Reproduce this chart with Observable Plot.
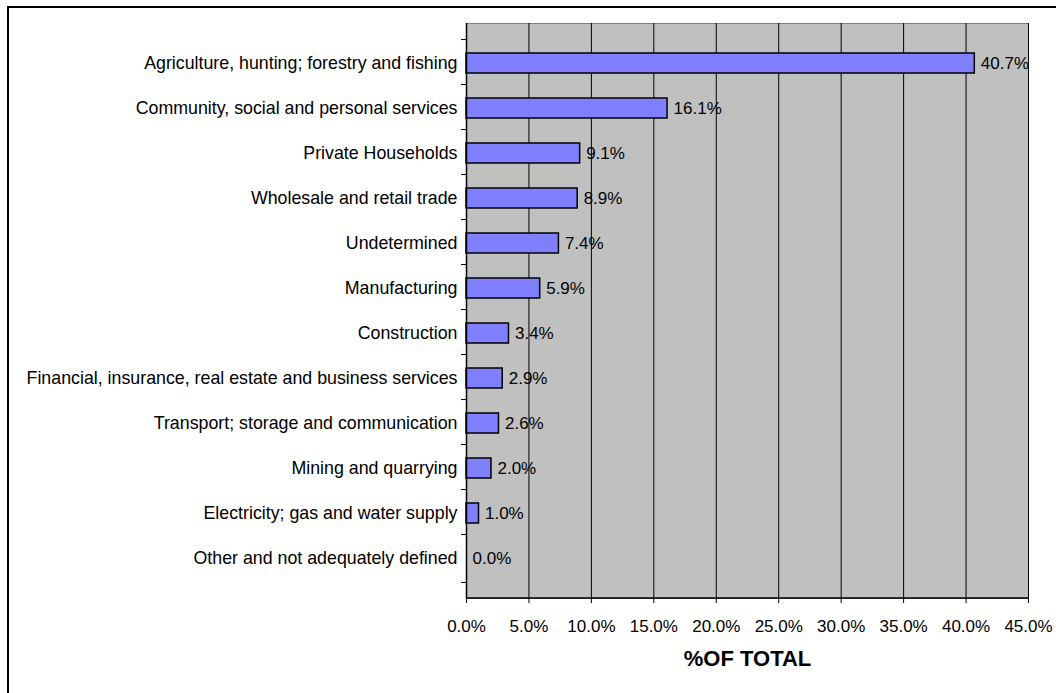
<!DOCTYPE html>
<html>
<head>
<meta charset="utf-8">
<script src="https://cdn.jsdelivr.net/npm/d3@7"></script>
<script src="https://cdn.jsdelivr.net/npm/@observablehq/plot@0.6"></script>
<style>
  html, body { margin: 0; padding: 0; background: #fff; }
  #wrap { position: relative; width: 1056px; height: 693px; overflow: hidden; }
  #border { position: absolute; left: 7px; top: 6px; width: 1100px; height: 750px; border: 2px solid #000; box-sizing: border-box; }
  #chart { position: absolute; left: 0; top: 0; }
  svg text { font-family: "Liberation Sans", Arial, sans-serif; }
</style>
</head>
<body>
<div id="wrap"><div id="border"></div><div id="chart"></div></div>
<script>
const categories = [
  "Agriculture, hunting; forestry and fishing",
  "Community, social and personal services",
  "Private Households",
  "Wholesale and retail trade",
  "Undetermined",
  "Manufacturing",
  "Construction",
  "Financial, insurance, real estate and business services",
  "Transport; storage and communication",
  "Mining and quarrying",
  "Electricity; gas and water supply",
  "Other and not adequately defined"
];
const values = [40.7, 16.1, 9.1, 8.9, 7.4, 5.9, 3.4, 2.9, 2.6, 2.0, 1.0, 0.0];
const xTicks = [0, 5, 10, 15, 20, 25, 30, 35, 40, 45];
const axisTitle = "%OF TOTAL";

const data = categories.map((c, i) => ({category: c, value: values[i]}));

const W = 1056, H = 693, mL = 466, mR = 28, mT = 23, mB = 95;
const step = (H - mT - mB) / categories.length;
const fmt = d => d.toFixed(1) + "%";

const chart = Plot.plot({
  width: W, height: H,
  marginLeft: mL, marginRight: mR, marginTop: mT, marginBottom: mB,
  style: {fontSize: "17px", fontFamily: "Liberation Sans, Arial, sans-serif", color: "#000", background: "transparent"},
  x: {domain: [0, 45], ticks: xTicks},
  y: {domain: categories, padding: 0.56, align: 0.5},
  marks: [
    Plot.frame({fill: "#c0c0c0", stroke: "#808080"}),
    Plot.gridX(xTicks, {stroke: "#000", strokeOpacity: 1, strokeWidth: 1}),
    Plot.barX(data, {x: "value", y: "category", fill: "#8080ff", stroke: "#000", strokeWidth: 1.5}),
    Plot.text(data, {x: "value", y: "category", text: d => fmt(d.value), textAnchor: "start", dx: 6, fontSize: 17, fill: "#000"}),
    Plot.ruleX([0], {stroke: "#000", strokeWidth: 1.5}),
    Plot.axisX({ticks: xTicks, tickFormat: fmt, tickSize: 5, tickPadding: 16, label: null, fontSize: 17}),
    Plot.axisY({tickSize: 0, tickPadding: 9, label: null, fontSize: 17.8}),
    Plot.axisY({text: null, tickSize: 5, label: null, dy: -step / 2}),
    Plot.axisY({ticks: [categories[categories.length - 1]], text: null, tickSize: 5, label: null, dy: step / 2}),
    Plot.text([axisTitle], {frameAnchor: "bottom", dy: 67, fontWeight: "bold", fontSize: 22, fill: "#000"})
  ]
});
document.getElementById("chart").appendChild(chart);

// bottom axis line along the frame's lower edge
const yb = H - mB;
d3.select(chart).append("line").attr("x1", mL).attr("x2", W - mR).attr("y1", yb).attr("y2", yb).attr("stroke", "#000").attr("stroke-width", 1.5);
</script>
</body>
</html>
